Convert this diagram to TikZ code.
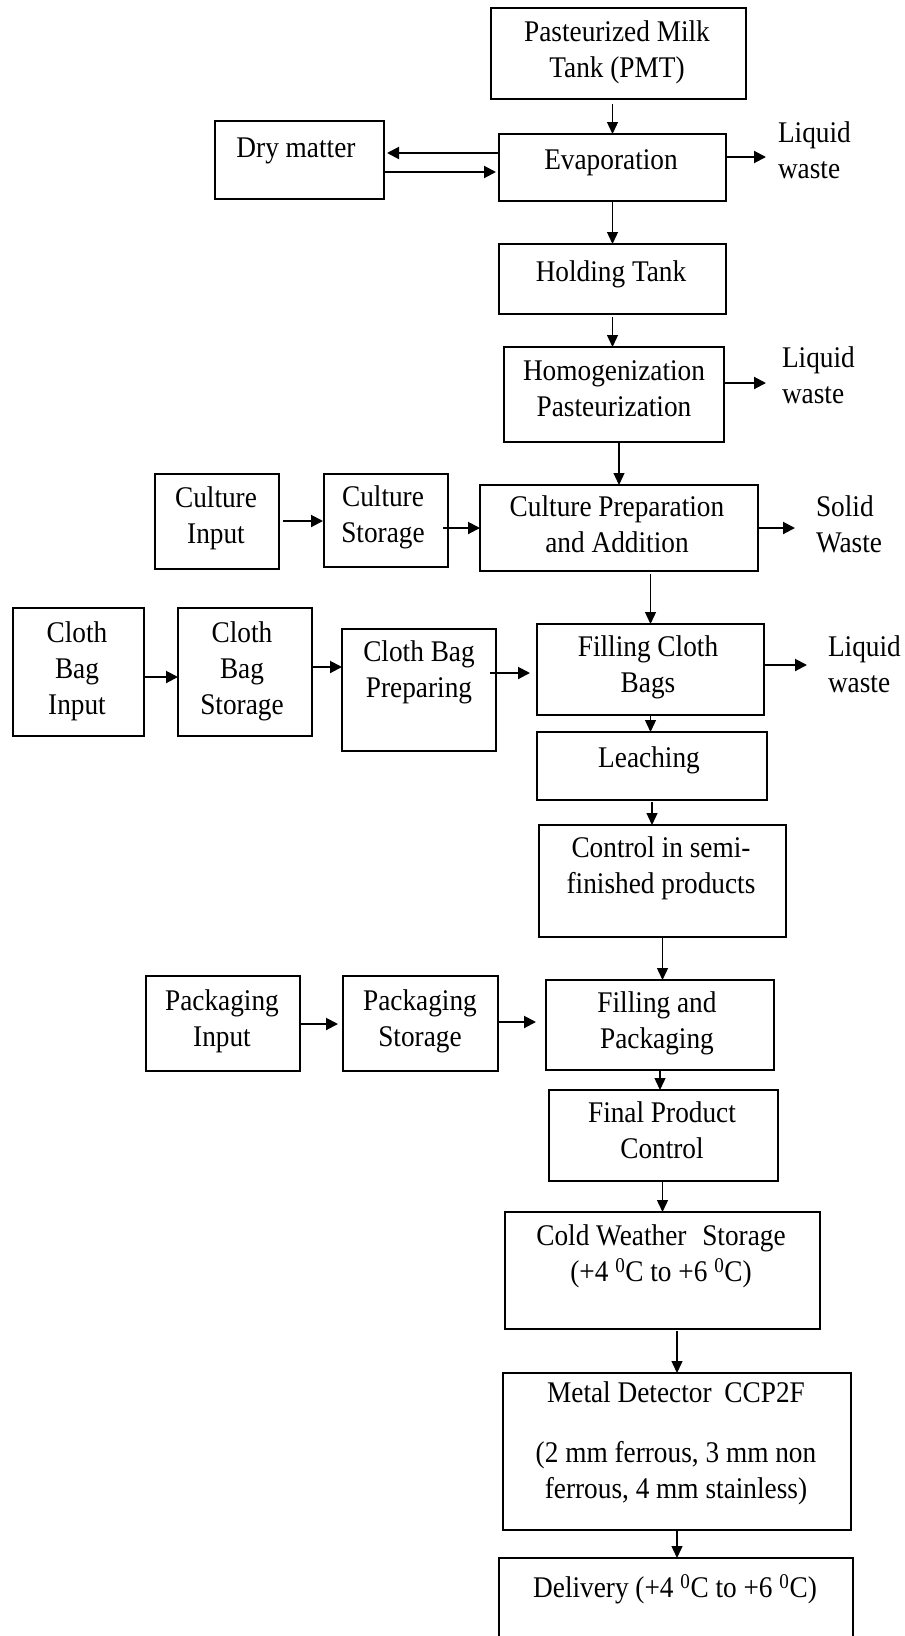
\documentclass[tikz,border=0pt]{standalone}
\usepackage{fontspec}
\setmainfont{Liberation Serif}[FakeStretch=0.91]
\usetikzlibrary{arrows.meta}
\newcommand\fs{\fontsize{30}{36}\selectfont}
\newcommand\mkbox[5]{\node[box, minimum width={(#3-#2)*1pt}, minimum height={(#5-#4)*1pt}] (#1) at ({(#2+#3)/2},{(#4+#5)/2}) {};}
\newcommand\dg{\textsuperscript{0}}
\begin{document}
\begin{tikzpicture}[x=1pt,y=-1pt,
  box/.style={draw, line width=1.8pt, inner sep=0pt, outer sep=0pt},
  txt/.style={font=\fs, align=center, inner sep=0pt, outer sep=0pt, anchor=north,
    execute at begin node=\strut},
  wtxt/.style={txt, align=left, anchor=north west},
  varr/.style={line width=1.3pt, -{Triangle[length=12pt,width=11pt]}},
  harr/.style={line width=2pt, -{Triangle[length=12pt,width=12pt]}}]
\clip (0,0) rectangle (905,1636);
\fill[white] (0,0) rectangle (905,1636);
% boxes
\mkbox{pmt}{491}{746}{8}{99}
\mkbox{dry}{215}{384}{121}{199}
\mkbox{evap}{499}{726}{134}{201}
\mkbox{hold}{499}{726}{244}{314}
\mkbox{homog}{504}{724}{347}{442}
\mkbox{ci}{155}{279}{474}{569}
\mkbox{cs}{324}{448}{474}{567}
\mkbox{cp}{480}{758}{485}{571}
\mkbox{cbi}{13}{144}{608}{736}
\mkbox{cbs}{178}{312}{608}{736}
\mkbox{cbp}{342}{496}{629}{751}
\mkbox{fcb}{537}{764}{624}{715}
\mkbox{leach}{537}{767}{732}{800}
\mkbox{ctrl}{539}{786}{825}{937}
\mkbox{pi}{146}{300}{976}{1071}
\mkbox{ps}{343}{498}{976}{1071}
\mkbox{fp}{546}{774}{980}{1070}
\mkbox{fpc}{549}{778}{1090}{1181}
\mkbox{cws}{505}{820}{1212}{1329}
\mkbox{md}{503}{851}{1373}{1530}
\mkbox{del}{499}{853}{1558}{1680}
% texts
\node[txt] (tpmt) at (617,21) {Pasteurized Milk\\Tank (PMT)};
\node[txt] (tdry) at (296,132) {Dry matter};
\node[txt] (tevap) at (611,144) {Evaporation};
\node[wtxt] (lw1) at (778,122) {Liquid\\waste};
\node[txt] (thold) at (611,256) {Holding Tank};
\node[txt] (thomog) at (614,361) {Homogenization\\Pasteurization};
\node[wtxt] (lw2) at (782,347) {Liquid\\waste};
\node[txt] (tci) at (216,487) {Culture\\Input};
\node[txt] (tcs) at (383,486) {Culture\\Storage};
\node[txt] (tcp) at (617,496) {Culture Preparation\\and Addition};
\node[wtxt] (sw) at (816,496) {Solid\\Waste};
\node[txt] (tcbi) at (77,622) {Cloth\\Bag\\Input};
\node[txt] (tcbs) at (242,622) {Cloth\\Bag\\Storage};
\node[txt] (tcbp) at (419,641) {Cloth Bag\\Preparing};
\node[txt] (tfcb) at (648,636) {Filling Cloth\\Bags};
\node[wtxt] (lw3) at (828,636) {Liquid\\waste};
\node[txt] (tleach) at (649,742) {Leaching};
\node[txt] (tctrl) at (661,837) {Control in semi-\\finished products};
\node[txt] (tpi) at (222,990) {Packaging\\Input};
\node[txt] (tps) at (420,990) {Packaging\\Storage};
\node[txt] (tfp) at (657,992) {Filling and\\Packaging};
\node[txt] (tfpc) at (662,1102) {Final Product\\Control};
\node[txt] (tcws) at (661,1225) {Cold Weather\hspace{0.3em} Storage\\(+4 \dg C to +6 \dg C)};
\node[txt] (tmd) at (676,1382) {Metal Detector\hspace{0.2em} CCP2F\\[24pt](2 mm ferrous, 3 mm non\\ferrous, 4 mm stainless)};
\node[txt] (tdel) at (675,1572) {Delivery (+4 \dg C to +6 \dg C)};
% vertical arrows
\draw[varr, shorten <=5pt] (pmt.south -| evap.north) -- (evap.north);
\draw[varr] (evap.south) -- (hold.north);
\draw[varr, shorten <=3pt] (hold.south) -- (hold.south |- homog.north);
\draw[varr] (homog.south -| cp.north) -- (cp.north);
\draw[varr, shorten <=3pt] (cp.south -| fcb.north) -- (fcb.north);
\draw[varr] (fcb.south) -- (fcb.south |- leach.north);
\draw[varr, shorten <=2pt] (leach.south) -- (leach.south |- ctrl.north);
\draw[varr] (ctrl.south) -- (ctrl.south |- fp.north);
\draw[varr] (fp.south) -- (fp.south |- fpc.north);
\draw[varr] (fpc.south -| cws.north) -- (cws.north);
\draw[varr, shorten <=2pt] (cws.south -| md.north) -- (md.north);
\draw[varr] (md.south) -- (md.south |- del.north);
% horizontal arrows
\draw[harr, shorten >=3pt] ([yshift=14.5pt]evap.west) -- ([yshift=7pt]dry.east);
\draw[harr, shorten >=3pt] ([yshift=-12pt]dry.east) -- ([yshift=-4.5pt]evap.west);
\coordinate (e1) at ([yshift=10.5pt]evap.east);
\coordinate (e2) at ([yshift=11.5pt]homog.east);
\coordinate (e3) at (cp.east);
\coordinate (e4) at ([yshift=4.5pt]fcb.east);
\draw[harr, shorten >=12pt] (e1) -- (e1 -| lw1.west);
\draw[harr, shorten >=16pt] (e2) -- (e2 -| lw2.west);
\draw[harr, shorten >=21pt] (e3) -- (e3 -| sw.west);
\draw[harr, shorten >=21pt] (e4) -- (e4 -| lw3.west);
\draw[harr, shorten <=4pt, shorten >=1pt] ([yshift=0.5pt]ci.east) -- ([yshift=-0.5pt]cs.west);
\draw[harr, shorten <=-5pt] ([yshift=-7.5pt]cs.east) -- (cp.west);
\draw[harr] ([yshift=-5pt]cbi.east) -- ([yshift=-5pt]cbs.west);
\draw[harr] ([yshift=5pt]cbs.east) -- ([yshift=23pt]cbp.west);
\draw[harr, shorten <=-6pt, shorten >=7pt] ([yshift=17pt]cbp.east) -- ([yshift=-3.5pt]fcb.west);
\draw[harr, shorten >=5pt] ([yshift=-0.5pt]pi.east) -- ([yshift=-0.5pt]ps.west);
\draw[harr, shorten >=10pt] ([yshift=1.5pt]ps.east) -- ([yshift=3pt]fp.west);
\end{tikzpicture}
\end{document}
